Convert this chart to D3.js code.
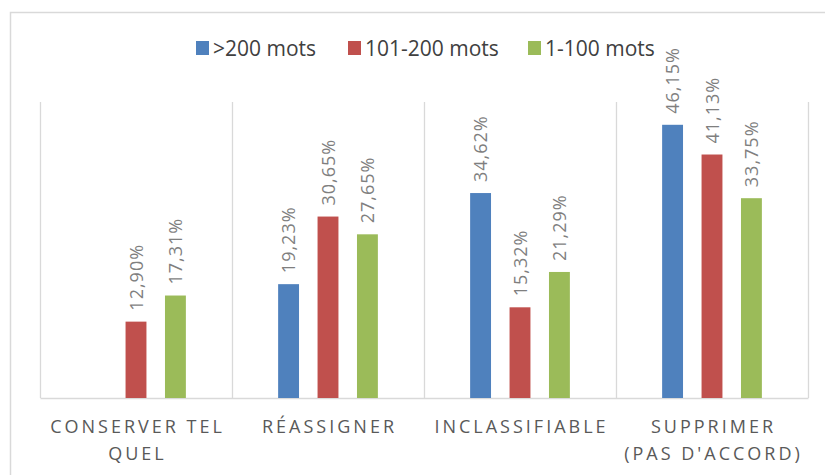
<!DOCTYPE html>
<html>
<head>
<meta charset="utf-8">
<script src="https://cdn.jsdelivr.net/npm/d3@7"></script>
<style>
  body { margin: 0; background: #fff; }
  svg { display: block; font-family: "Open Sans", "Liberation Sans", sans-serif; }
</style>
</head>
<body>
<svg id="chart" width="825" height="475"></svg>
<script>
var categories = [["CONSERVER TEL", "QUEL"], ["RÉASSIGNER"], ["INCLASSIFIABLE"], ["SUPPRIMER", "(PAS D'ACCORD)"]];
var series = [">200 mots", "101-200 mots", "1-100 mots"];
var colors = ["#4f81bd", "#c0504d", "#9bbb59"];
// percent values per series, in category order (null = no bar)
var longValues = [null, 19.23, 34.62, 46.15];
var midValues = [12.90, 30.65, 15.32, 41.13];
var shortValues = [17.31, 27.65, 21.29, 33.75];
var allValues = [longValues, midValues, shortValues];

var margin = {top: 102, right: 17, bottom: 77, left: 40},
    width = 825 - margin.left - margin.right,
    height = 475 - margin.top - margin.bottom;

var svg = d3.select("#chart");

// outer chart frame
svg.append("rect")
    .attr("x", 10.5)
    .attr("y", 12.5)
    .attr("width", 840)
    .attr("height", 480)
    .style("fill", "none")
    .style("stroke", "#d9d9d9")
    .style("stroke-width", 1.5);

var g = svg.append("g")
    .attr("transform", "translate(" + margin.left + "," + margin.top + ")");

var catIdx = categories.map(function(c, i) { return i; });

var x0 = d3.scaleBand().domain(catIdx).range([0, width]);
var x1 = d3.scaleBand().domain(series).range([0, x0.bandwidth()])
    .paddingInner(0.47).paddingOuter(1.17);
var y = d3.scaleLinear().domain([0, 50]).range([height, 0]);

// category separators
var seps = d3.range(categories.length + 1);
g.selectAll(".sep")
    .data(seps)
    .enter().append("line")
    .attr("class", "sep")
    .attr("x1", function(d) { return d * x0.step() + 0.5; })
    .attr("x2", function(d) { return d * x0.step() + 0.5; })
    .attr("y1", 0)
    .attr("y2", height)
    .style("stroke", "#d9d9d9")
    .style("stroke-width", 1.3);

// baseline axis
var xAxis = g.append("g")
    .attr("transform", "translate(0," + height + ")")
    .call(d3.axisBottom(x0).tickSize(0).tickFormat(""));
xAxis.select(".domain").style("stroke", "#d9d9d9").style("stroke-width", 1.5);

// flatten data
var data = [];
series.forEach(function(s, si) {
    allValues[si].forEach(function(v, ci) {
        if (v !== null) data.push({cat: ci, series: s, si: si, value: v});
    });
});

g.selectAll(".bar")
    .data(data)
    .enter().append("rect")
    .attr("class", "bar")
    .attr("x", function(d) { return x0(d.cat) + x1(d.series); })
    .attr("y", function(d) { return y(d.value); })
    .attr("width", x1.bandwidth())
    .attr("height", function(d) { return height - y(d.value); })
    .style("fill", function(d) { return colors[d.si]; });

// value labels, rotated
g.selectAll(".vlabel")
    .data(data)
    .enter().append("text")
    .attr("class", "vlabel")
    .attr("transform", function(d) {
        var cx = x0(d.cat) + x1(d.series) + x1.bandwidth() / 2;
        return "translate(" + (cx + 6.5) + "," + (y(d.value) - 11) + ") rotate(-90)";
    })
    .style("font-size", "18px")
    .style("letter-spacing", "1px")
    .style("fill", "#7f7f7f")
    .text(function(d) { return d.value.toFixed(2).replace(".", ",") + "%"; });

// category labels
var catLabels = g.selectAll(".clabel")
    .data(categories)
    .enter().append("text")
    .attr("class", "clabel")
    .attr("y", height + 35)
    .style("text-anchor", "middle")
    .style("font-size", "18px")
    .style("letter-spacing", "3px")
    .style("fill", "#595959");
catLabels.each(function(d, i) {
    var t = d3.select(this);
    var cx = x0(i) + x0.bandwidth() / 2;
    d.forEach(function(line, li) {
        t.append("tspan")
            .attr("x", cx + 1.5)
            .attr("dy", li === 0 ? 0 : 27)
            .text(line);
    });
});

// legend
var legendX = [196, 348, 528];
var legend = svg.append("g");
series.forEach(function(s, i) {
    legend.append("rect")
        .attr("x", legendX[i])
        .attr("y", 41)
        .attr("width", 13)
        .attr("height", 14)
        .style("fill", colors[i]);
    legend.append("text")
        .attr("x", legendX[i] + 17)
        .attr("y", 56)
        .style("font-size", "21px")
        .style("fill", "#404040")
        .text(s);
});
</script>
</body>
</html>
